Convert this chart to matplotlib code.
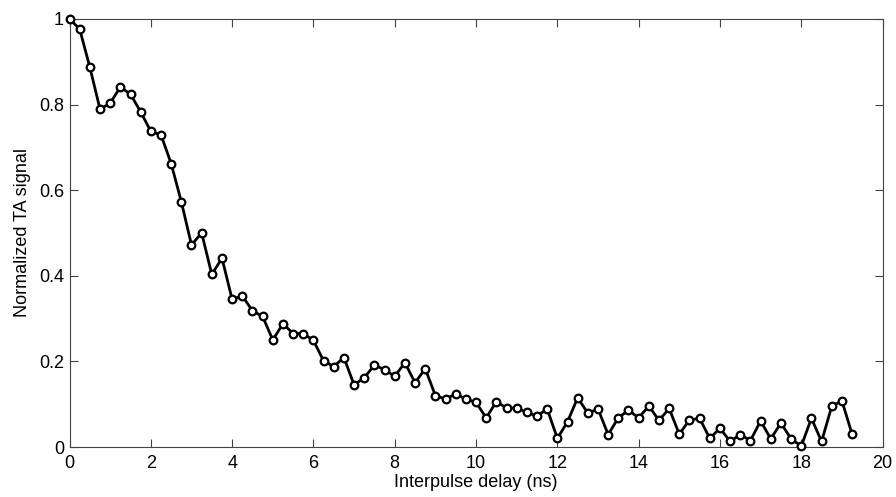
import numpy as np
import matplotlib.pyplot as plt

plt.rcParams['font.family'] = ['Liberation Sans', 'DejaVu Sans']

# interpulse delay (ns), step 0.25
delay = np.arange(78) * 0.25
signal = [1.000, 0.976, 0.887, 0.789, 0.803, 0.841, 0.824, 0.783, 0.737, 0.729,
          0.662, 0.573, 0.472, 0.500, 0.403, 0.441, 0.345, 0.353, 0.318, 0.305,
          0.250, 0.288, 0.265, 0.265, 0.249, 0.201, 0.188, 0.209, 0.145, 0.162,
          0.191, 0.181, 0.165, 0.197, 0.150, 0.183, 0.120, 0.112, 0.124, 0.112,
          0.104, 0.068, 0.106, 0.091, 0.091, 0.081, 0.072, 0.089, 0.020, 0.059,
          0.115, 0.079, 0.089, 0.029, 0.068, 0.086, 0.068, 0.096, 0.062, 0.090,
          0.030, 0.063, 0.067, 0.020, 0.044, 0.013, 0.029, 0.015, 0.061, 0.019,
          0.056, 0.019, 0.002, 0.067, 0.013, 0.095, 0.108, 0.030]

xticks = [0, 2, 4, 6, 8, 10, 12, 14, 16, 18, 20]
yticks = [0, 0.2, 0.4, 0.6, 0.8, 1]
ytick_labels = ['0', '0.2', '0.4', '0.6', '0.8', '1']

fig = plt.figure(figsize=(8.96, 4.97), dpi=100)
ax = fig.add_axes([0.0776, 0.1006, 0.9074, 0.8614])

ax.plot(delay, signal, color='black', lw=2, marker='o', markersize=5.5,
        markerfacecolor='white', markeredgecolor='black', markeredgewidth=1.6,
        clip_on=False, zorder=3)

ax.set_xlim(0, 20)
ax.set_ylim(0, 1)
ax.set_xticks(xticks)
ax.set_yticks(yticks)
ax.set_yticklabels(ytick_labels)
ax.tick_params(direction='in', top=True, right=True, length=6, width=0.8,
               labelsize=13, color='#444444')
ax.tick_params(axis='x', pad=6)
ax.tick_params(axis='y', pad=4)
for s in ax.spines.values():
    s.set_linewidth(0.8)
    s.set_color('#444444')

ax.set_xlabel('Interpulse delay (ns)', fontsize=13, labelpad=1)
ax.set_ylabel('Normalized TA signal', fontsize=13, labelpad=6)

fig.savefig('out.png', dpi=100)
